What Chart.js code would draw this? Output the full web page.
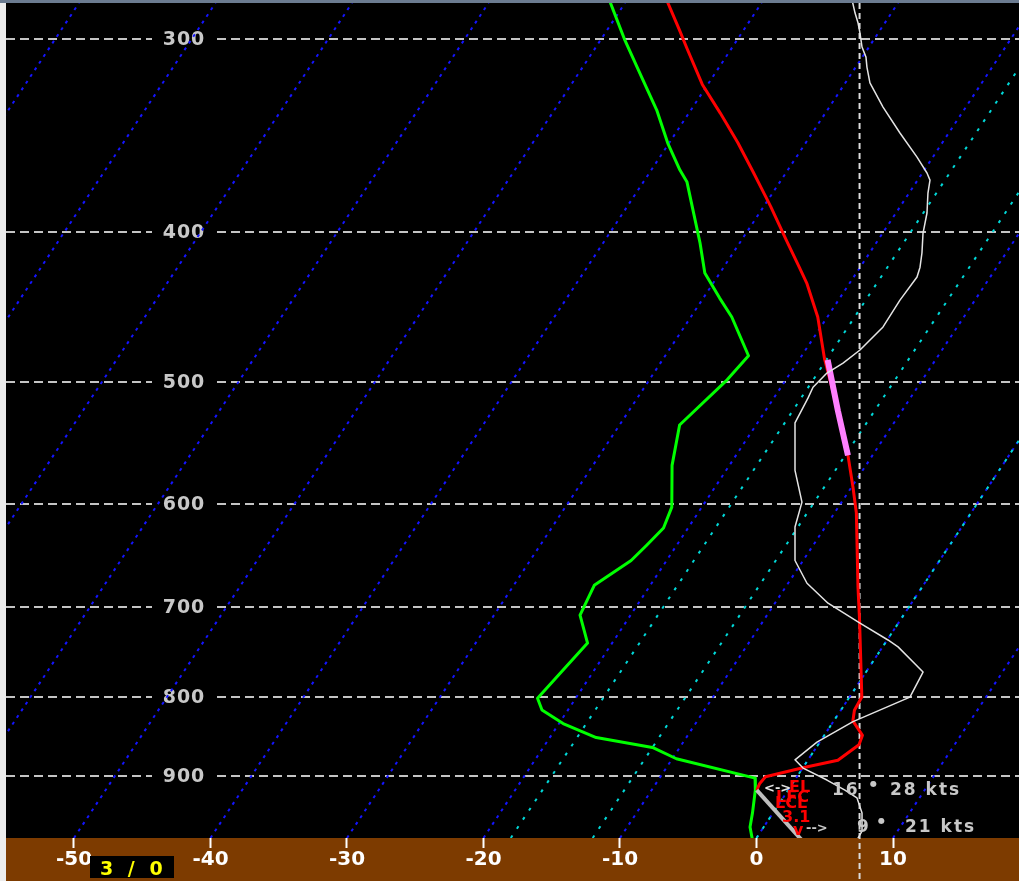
<!DOCTYPE html>
<html>
<head>
<meta charset="utf-8">
<script src="https://cdn.jsdelivr.net/npm/chart.js@4.4.0/dist/chart.umd.min.js"></script>
<style>
html,body{margin:0;padding:0;background:#ececec;overflow:hidden}
canvas{display:block}
</style>
</head>
<body>
<canvas id="c" width="1019" height="881"></canvas>
<script>
// ---------- data ----------
const pressureLevels = [300, 400, 500, 600, 700, 800, 900];
const tempTickLabels = [-50, -40, -30, -20, -10, 0, 10];
const isothermTemps = [-90, -80, -70, -60, -50, -40, -30, -20, -10, 0, 10];
const dgzIsothermTemps = [-18, -12, 0];

// temperature profile (hPa, °C)
const tempPressure = [283, 296, 304, 321, 335, 350, 366, 385, 405, 422, 432, 454, 483, 522, 558, 585, 608, 679, 713, 800, 816, 829, 847, 859, 879, 889, 901, 910, 919];
const tempValues   = [-47.1, -44.7, -43.3, -40.4, -37.7, -35.0, -32.4, -29.5, -26.7, -24.4, -23.1, -20.7, -18.2, -14.7, -11.8, -9.9, -8.4, -4.7, -3.0, 0.9, 1.0, 1.4, 2.8, 3.0, 2.2, 0.0, -2.3, -2.4, -2.3];

// highlighted (steep lapse rate) layer
const layerPressure = [484, 522, 558];
const layerTemp     = [-17.9, -14.7, -11.8];

// dewpoint profile (hPa, °C)
const dewPressure = [283, 300, 317.5, 333.5, 350.3, 364.7, 371.3, 385.4, 406.6, 425.2, 441.4, 454, 481, 498.6, 533.3, 566.4, 602.8, 621.8, 638, 652.7, 677.3, 708.1, 738.2, 801.4, 815.7, 832.3, 849.8, 862.5, 877.1, 902.8, 919.1, 951.1, 971.2, 990];
const dewValues   = [-51.3, -48.3, -45.2, -42.5, -40.1, -37.9, -36.8, -35.2, -32.9, -31.1, -28.8, -27.0, -23.9, -24.3, -25.6, -24.2, -22.2, -21.8, -22.2, -22.6, -24.1, -23.7, -21.8, -22.8, -21.9, -19.7, -16.6, -12.0, -9.7, -3.0, -2.4, -1.5, -1.0, -0.2];

// near-surface layer (grey)
const sfcPressure = [919, 990];
const sfcTemp     = [-2.3, 3.4];

// white profile (unskewed position on the horizontal axis)
const profilePressure = [283, 288.6, 292.9, 297.3, 303.6, 308.2, 312.8, 320.3, 332.0, 345.1, 357.7, 366.3, 370.2, 377.4, 388.8, 400.6, 412.7, 421.5, 427.7, 442.7, 460.8, 476.9, 486.3, 493.6, 504.1, 512.4, 531.7, 570.7, 598.3, 620.9, 652.7, 675.2, 695.6, 716.5, 734.8, 742.4, 770.8, 800.1, 829.9, 855.7, 878.5, 889.4, 905.4, 919.1, 929.8, 951.1, 977.1, 990];
const profileX = [7.0, 7.22, 7.44, 7.58, 7.73, 8.02, 8.09, 8.31, 9.27, 10.51, 11.76, 12.49, 12.71, 12.56, 12.49, 12.20, 12.12, 11.98, 11.76, 10.51, 9.27, 7.58, 6.34, 5.16, 4.14, 3.77, 2.82, 2.82, 3.33, 2.82, 2.82, 3.70, 5.24, 7.58, 9.63, 10.37, 12.20, 11.24, 7.07, 4.43, 2.82, 3.41, 5.16, 6.48, 7.36, 7.73, 7.73, 7.36];
const refLineX = 7.55;

const windDirs   = ['16', '9'];
const windSpeeds = ['28 kts', '21 kts'];
const parcelLabels = ['EL', 'LFC', 'LCL', '3.1'];
const boxLabel = '3 / 0';

// ---------- geometry of the skew-T ----------
const P_TOP = 284.3, P_BOTTOM = 987.1;
const X_MIN = -54.98, X_MAX = 19.23;
const SKEW = 32.43; // °C of shift per unit of ln(p)
const skewX = (t, p) => t + SKEW * Math.log(P_BOTTOM / p);
const toPts = (ps, ts) => ps.map((p, i) => ({x: skewX(ts[i], p), y: p}));
const rawPts = (ps, xs) => ps.map((p, i) => ({x: xs[i], y: p}));

const datasets = [];
const line = (data, color, width, extra) => Object.assign({
  data, borderColor: color, borderWidth: width, showLine: true, pointRadius: 0,
  tension: 0, fill: false, borderJoinStyle: 'round'
}, extra || {});

datasets.push(line(rawPts(profilePressure, profileX), '#e4e4e4', 1.5, {order: 0}));
datasets.push(line(toPts(layerPressure, layerTemp), '#ff80ff', 6, {order: 1}));
datasets.push(line(toPts(sfcPressure, sfcTemp), '#bdbdbd', 4, {order: 1}));
datasets.push(line(toPts(tempPressure, tempValues), '#ff0000', 3, {order: 2}));
datasets.push(line(toPts(dewPressure, dewValues), '#00ff00', 3, {order: 2}));
datasets.push(line([{x: refLineX, y: P_TOP}, {x: refLineX, y: 1100}], '#dcdcdc', 2, {order: 3, borderDash: [6, 4], clip: false}));
dgzIsothermTemps.forEach(t => datasets.push(line(
  [{x: skewX(t, P_BOTTOM), y: P_BOTTOM}, {x: skewX(t, P_TOP), y: P_TOP}],
  '#00d8d8', 2, {order: 4, borderDash: [3, 8], clip: 0})));
isothermTemps.forEach(t => datasets.push(line(
  [{x: skewX(t, P_BOTTOM), y: P_BOTTOM}, {x: skewX(t, P_TOP), y: P_TOP}],
  '#1414ff', 2, {order: 5, borderDash: [3, 5], clip: 0})));

const FONT = '"DejaVu Sans", sans-serif';

const skewPlugin = {
  id: 'skewDecor',
  beforeDraw(chart) {
    const {ctx, chartArea: a, width, height} = chart;
    ctx.save();
    ctx.fillStyle = '#ececec'; ctx.fillRect(0, 0, width, height);
    ctx.fillStyle = '#000000'; ctx.fillRect(a.left, a.top, a.right - a.left, a.bottom - a.top);
    ctx.fillStyle = '#7d3b00'; ctx.fillRect(a.left, a.bottom, a.right - a.left, height - a.bottom);
    ctx.fillStyle = '#6b7b90'; ctx.fillRect(0, 0, width, a.top);
    ctx.restore();
  },
  beforeDatasetsDraw(chart) {
    const {ctx, chartArea: a, scales: {y}} = chart;
    ctx.save();
    ctx.beginPath(); ctx.rect(a.left, a.top, a.right - a.left, a.bottom - a.top); ctx.clip();
    ctx.strokeStyle = '#c4c4c4'; ctx.lineWidth = 2; ctx.setLineDash([9, 5]);
    ctx.fillStyle = '#c8c8c8';
    ctx.font = 'bold 19px ' + FONT; ctx.letterSpacing = '1px';
    ctx.textAlign = 'center'; ctx.textBaseline = 'middle';
    pressureLevels.forEach(p => {
      const py = Math.round(y.getPixelForValue(p));
      ctx.beginPath(); ctx.moveTo(a.left, py); ctx.lineTo(152, py); ctx.stroke();
      ctx.beginPath(); ctx.moveTo(217, py); ctx.lineTo(a.right, py); ctx.stroke();
      ctx.fillText(String(p), 184, py + 1);
    });
    ctx.restore();
  },
  afterDraw(chart) {
    const {ctx} = chart;
    ctx.save();
    ctx.textAlign = 'left'; ctx.textBaseline = 'alphabetic';
    // wind texts
    ctx.fillStyle = '#c8c8c8';
    ctx.font = 'bold 17px ' + FONT; ctx.letterSpacing = '2px';
    ctx.fillText(windDirs[0], 832, 795); ctx.fillText(windSpeeds[0], 890, 795);
    ctx.fillText(windDirs[1], 857, 832); ctx.fillText(windSpeeds[1], 905, 832);
    ctx.font = 'bold 8px ' + FONT; ctx.letterSpacing = '0px';
    ctx.fillText('\u25CF', 870, 786); ctx.fillText('\u25CF', 878, 823);
    // parcel labels
    ctx.fillStyle = '#ff0000'; ctx.font = 'bold 16px ' + FONT; ctx.letterSpacing = '0px';
    ctx.fillText(parcelLabels[0], 789, 792);
    ctx.fillText(parcelLabels[1], 776, 802);
    ctx.fillText(parcelLabels[2], 775, 808);
    ctx.fillText(parcelLabels[3], 782, 822);
    ctx.fillText('v', 793, 835);
    ctx.fillStyle = '#e6e6e6'; ctx.font = 'bold 13px ' + FONT;
    ctx.fillText('<->', 764, 792);
    ctx.fillStyle = '#c8c8c8';
    ctx.fillText('-->', 806, 832);
    // yellow box
    ctx.fillStyle = '#000000'; ctx.fillRect(90, 856, 84, 22);
    ctx.fillStyle = '#ffff00'; ctx.font = 'bold 19px ' + FONT; ctx.letterSpacing = '4px';
    ctx.fillText(boxLabel, 100, 875);
    ctx.restore();
  }
};

new Chart(document.getElementById('c'), {
  type: 'scatter',
  data: {datasets},
  options: {
    responsive: false, animation: false, devicePixelRatio: 1,
    layout: {padding: {left: 6, top: 3, right: 0, bottom: 0}},
    plugins: {legend: {display: false}, tooltip: {enabled: false}},
    events: [],
    scales: {
      x: {
        type: 'linear', position: 'bottom', min: X_MIN, max: X_MAX,
        afterFit: s => { s.height = 43; },
        afterBuildTicks: s => { s.ticks = tempTickLabels.map(v => ({value: v})); },
        grid: {display: true, drawOnChartArea: false, drawTicks: true, tickLength: 10, tickWidth: 2, tickColor: '#ffffff'},
        border: {display: false},
        ticks: {color: '#ffffff', font: {family: 'DejaVu Sans', weight: 'bold', size: 20}, padding: 0, autoSkip: false, maxRotation: 0}
      },
      y: {
        type: 'logarithmic', min: P_TOP, max: P_BOTTOM, reverse: true, display: false
      }
    }
  },
  plugins: [skewPlugin]
});
</script>
</body>
</html>
